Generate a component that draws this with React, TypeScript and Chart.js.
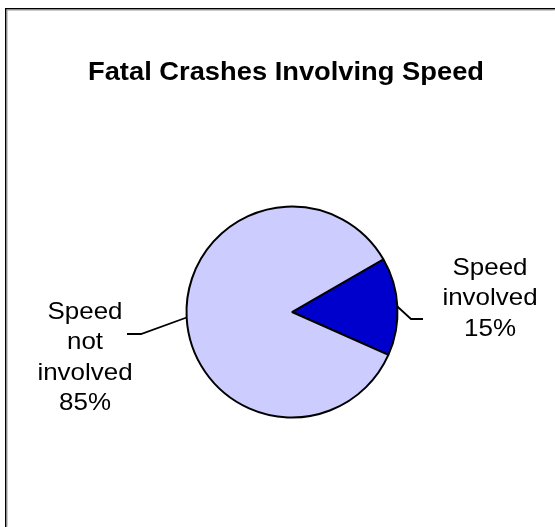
import React, { useEffect, useRef } from "react";
import { Chart, registerables } from "chart.js";

Chart.register(...registerables);

const chartTitle = "Fatal Crashes Involving Speed";
const categories = ["Speed involved", "Speed not involved"];
const percentages = [15, 85];
const sliceColors = ["#0000CC", "#CCCCFF"];

// layout of the callout labels (positions only)
const labelLayout = [
  { textX: 490, firstBaseline: 275, elbowX: 411, elbowY: 319, endX: 423 },
  { textX: 85, firstBaseline: 319, elbowX: 141, elbowY: 334, endX: 127 },
];

const W = 555;
const H = 527;

const overlayPlugin = {
  id: "overlay",
  afterDraw(chart: any) {
    const ctx = chart.ctx as CanvasRenderingContext2D;
    ctx.save();
    // frame (top & left visible)
    ctx.fillStyle = "#000";
    ctx.fillRect(5, 8, W - 5, 1.5);
    ctx.fillRect(5, 8, 1.5, H - 8);
    ctx.fillStyle = "#999";
    ctx.fillRect(6.5, 9.5, W - 7, 1);
    ctx.fillRect(6.5, 9.5, 1, H - 10);

    // title
    ctx.fillStyle = "#000";
    ctx.font = "bold 26px 'Liberation Sans', Arial, sans-serif";
    ctx.textAlign = "center";
    ctx.textBaseline = "alphabetic";
    ctx.save();
    ctx.translate(286, 80);
    ctx.scale(1.05, 1);
    ctx.fillText(chartTitle, 0, 0);
    ctx.restore();

    // labels & leader lines
    const meta = chart.getDatasetMeta(0);
    meta.data.forEach((arc: any, i: number) => {
      const L = labelLayout[i];
      const mid = (arc.startAngle + arc.endAngle) / 2;
      const ex = arc.x + Math.cos(mid) * arc.outerRadius;
      const ey = arc.y + Math.sin(mid) * arc.outerRadius;
      ctx.strokeStyle = "#000";
      ctx.lineWidth = 1.8;
      ctx.beginPath();
      ctx.moveTo(ex, ey);
      ctx.lineTo(L.elbowX, L.elbowY);
      ctx.lineTo(L.endX, L.elbowY);
      ctx.stroke();

      const lines = [...categories[i].split(" "), percentages[i] + "%"];
      ctx.font = "24px 'Liberation Sans', Arial, sans-serif";
      ctx.fillStyle = "#000";
      ctx.textAlign = "center";
      lines.forEach((t, k) => {
        ctx.save();
        ctx.translate(L.textX, L.firstBaseline + k * 30.3);
        ctx.scale(1.08, 1);
        ctx.fillText(t, 0, 0);
        ctx.restore();
      });
    });
    ctx.restore();
  },
};

export default function App() {
  const ref = useRef<HTMLCanvasElement | null>(null);
  useEffect(() => {
    if (!ref.current) return;
    const chart = new Chart(ref.current, {
      type: "pie",
      data: {
        labels: categories,
        datasets: [
          {
            data: percentages,
            backgroundColor: sliceColors,
            borderColor: "#000",
            borderWidth: 2,
          },
        ],
      },
      options: {
        responsive: false,
        animation: false,
        rotation: 60,
        layout: {
          padding: { left: 185.5, top: 205.5, right: 156.5, bottom: 108.5 },
        },
        plugins: {
          legend: { display: false },
          tooltip: { enabled: false },
          title: { display: false },
        },
      },
      plugins: [overlayPlugin],
    });
    return () => chart.destroy();
  }, []);
  return (
    <div style={{ position: "fixed", left: 0, top: 0, width: W, height: H, background: "#fff" }}>
      <canvas ref={ref} width={W} height={H} style={{ width: W, height: H, display: "block" }} />
    </div>
  );
}
